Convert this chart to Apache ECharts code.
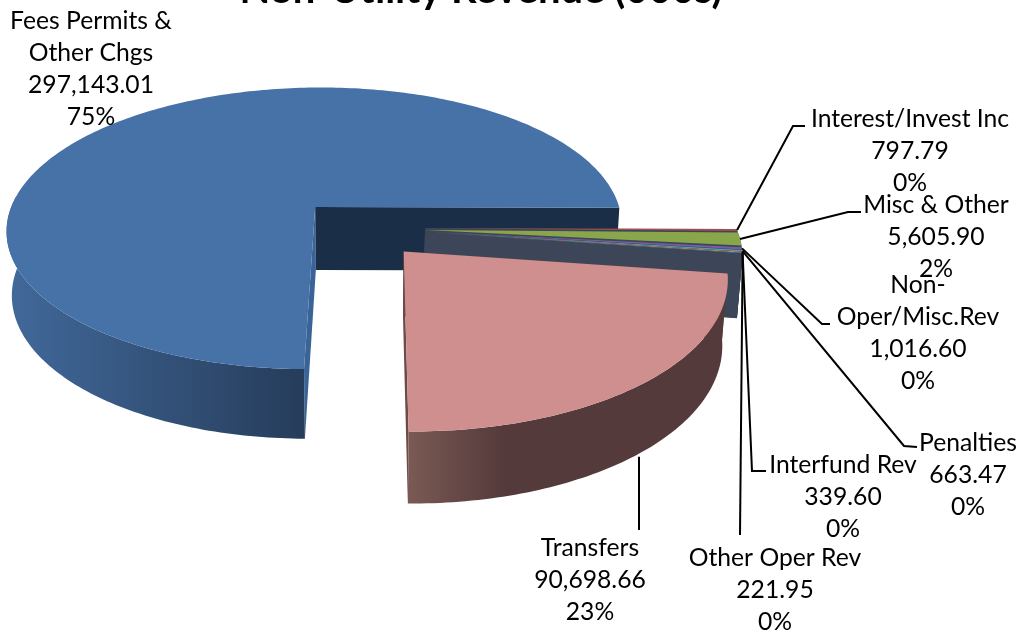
<!DOCTYPE html>
<html><head><meta charset="utf-8">
<style>html,body{margin:0;padding:0;background:#fff}#c{width:1021px;height:637px}</style>
<script src="https://cdn.jsdelivr.net/npm/echarts@6/dist/echarts.min.js"></script></head>
<body><div id="c"></div>
<script>
const categories = ['Fees Permits & Other Chgs','Interest/Invest Inc','Misc & Other','Non-Oper/Misc.Rev','Penalties','Interfund Rev','Other Oper Rev','Transfers'];
const values = [297143.01,797.79,5605.90,1016.60,663.47,339.60,221.95,90698.66];
const percentLabels = ['75%','0%','2%','0%','0%','0%','0%','23%'];
const labelNames = ['Fees Permits &\nOther Chgs','Interest/Invest Inc','Misc & Other','Non-\nOper/Misc.Rev','Penalties','Interfund Rev','Other Oper Rev','Transfers'];
const topColors = ['#4672a7','#a44f4d','#8aa64b','#7a5c9c','#479fbe','#e08a3c','#4d7fb8','#cf8f8e'];
const startFaceColors = ['#3a6497','#3d4558','#3d4558','#3d4558','#3d4558','#3d4558','#3d4558','#54393a'];
const endFaceColors = ['#1a2e47','#3d4558','#3d4558','#3d4558','#3d4558','#3d4558','#3d4558','#6b4a48'];
const wallStops = [
  [[0,'#41699b'],[1,'#263c5a']],null,null,null,null,null,null,
  [[0,'#7b5a54'],[.12,'#6a4d4a'],[.3,'#553a3b'],[1,'#553a3b']]
];
// label layout: [centre x, centre y]
const labelAt = [[91,69],[910,151],[936,237],[918,333],[968,475],[843,497],[775,590],[590,580]];
// leader bends after the slice anchor
const leaders = [null,[[793,126],[805,126]],[[848,212],[861,212]],[[822,324],[830,324]],[[904,446],[917,447]],[[752,471],[766,471]],[[740,535]],[[639,530]]];
const geo = {cx:360,cy:228,R:311,Rs:144,k:.155,H:64,hp:.6,s:.985,e:.21,first:90.5};
const total = values.reduce((a,b)=>a+b,0);
const ranges = []; let acc = geo.first;
values.forEach(v=>{const d=v/total*360; ranges.push([acc,acc+d]); acc+=d;});
function proj(u,v,lower){
  const w=1-geo.k*v; let x=geo.cx+geo.R*u/w, y=geo.cy+geo.Rs*v/w;
  if(lower){x=geo.cx+(x-geo.cx)*geo.s; y+=geo.H/Math.pow(w,geo.hp);}
  return [x,y];
}
const rad=d=>d*Math.PI/180;
function sliceParts(i){
  const [a,b]=ranges[i], mid=rad((a+b)/2);
  const ou=geo.e*Math.cos(mid), ov=geo.e*Math.sin(mid);
  const pt=(t,l)=>proj(ou+Math.cos(rad(t)),ov+Math.sin(rad(t)),l);
  return {ou,ov,pt,a,b,apex:proj(ou,ov,false),apexL:proj(ou,ov,true)};
}
const poly=(points,fill)=>({type:'polygon',shape:{points},style:{fill},silent:true});
function drawSlice(params,api){
  const i=params.dataIndex, p=sliceParts(i), ch=[];
  const arc=[], n=Math.max(2,Math.ceil(p.b-p.a));
  for(let j=0;j<=n;j++) arc.push(p.a+(p.b-p.a)*j/n);
  ch.push(poly([p.apex,p.pt(p.a,false),p.pt(p.a,true),p.apexL],startFaceColors[i]));
  ch.push(poly([p.apex,p.pt(p.b,false),p.pt(p.b,true),p.apexL],endFaceColors[i]));
  const vis=arc.filter(t=>p.a>=360||t<=185);
  if(vis.length>1){
    const up=vis.map(t=>p.pt(t,false)), lo=vis.map(t=>p.pt(t,true)).reverse();
    const fill=wallStops[i]?new echarts.graphic.LinearGradient(0,0,1,0,wallStops[i].map(s=>({offset:s[0],color:s[1]}))):endFaceColors[i];
    ch.push(poly(up.concat(lo),fill));
  }
  ch.push(poly([p.apex].concat(arc.map(t=>p.pt(t,false))),topColors[i]));
  return {type:'group',children:ch};
}
function anchor(i){
  const p=sliceParts(i), m=(p.a+p.b)/2;
  if(i===0) return null;
  if(i===7) return [leaders[7][0][0],p.pt(m+2,true)[1]];
  return p.pt(m,false);
}
function drawLabel(params,api){
  const i=params.dataIndex, ch=[];
  const a=anchor(i);
  if(a&&leaders[i]) ch.push({type:'polyline',shape:{points:[a].concat(leaders[i])},style:{stroke:'#000',lineWidth:2,fill:null},silent:true});
  const val=api.value(0).toLocaleString('en-US',{minimumFractionDigits:2,maximumFractionDigits:2});
  ch.push({type:'text',x:labelAt[i][0],y:labelAt[i][1],silent:true,style:{
    text:labelNames[i]+'\n'+val+'\n'+percentLabels[i],fill:'#000',font:'24.7px Lato',lineHeight:31.7,align:'center',verticalAlign:'middle'}});
  return {type:'group',children:ch};
}
const chart=echarts.init(document.getElementById('c'),null,{renderer:'canvas'});
const items=categories.map((name,i)=>({name,value:[values[i]]}));
chart.setOption({
  animation:false,backgroundColor:'#fff',
  title:{text:'Non-Utility Revenue (000s)',left:476,top:-35,textAlign:'center',textStyle:{fontFamily:'Lato',fontSize:40,fontWeight:'bold',color:'#000'}},
  series:[
    {type:'custom',coordinateSystem:'none',renderItem:drawSlice,data:items,silent:true,z:2},
    {type:'custom',coordinateSystem:'none',renderItem:drawLabel,data:items,silent:true,z:3}
  ]
});
</script></body></html>
